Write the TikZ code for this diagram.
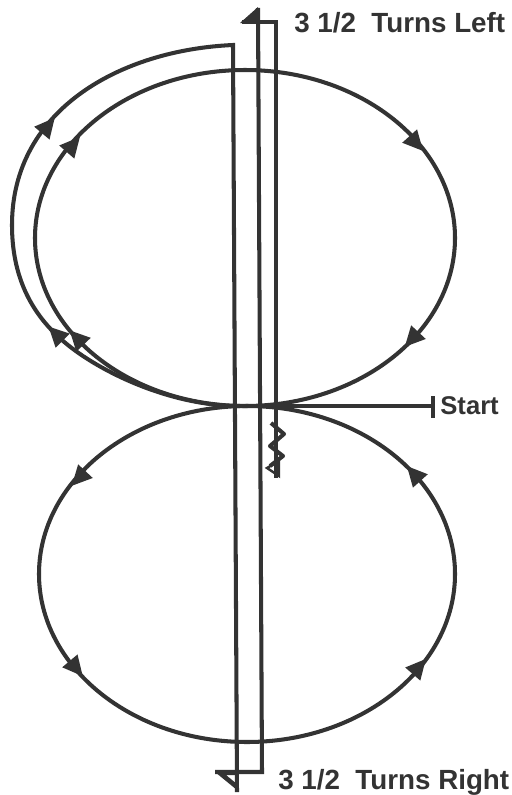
\documentclass[tikz,border=0pt]{standalone}
\usepackage{fontspec}
\setmainfont{Liberation Sans}
\usepackage{tikz}
\usetikzlibrary{calc,positioning}
\definecolor{ink}{HTML}{333333}

\begin{document}
\begin{tikzpicture}[x=0.02cm,y=-0.02cm,
    loopline/.style={draw=ink,line width=2.3pt},
    headfill/.style={fill=ink,draw=none},
    turnlabel/.style={inner sep=0pt,text=ink,font=\fontsize{15.8}{16}\selectfont\bfseries},
    startlabel/.style={inner sep=0pt,text=ink,font=\fontsize{14.6}{15}\selectfont\bfseries}]
      \useasboundingbox (0,0) rectangle (511,795);
      % the two big loops
      \draw[loopline] (245,238) ellipse [x radius=210,y radius=168];
      \draw[loopline] (247,574) ellipse [x radius=208,y radius=168];
      % labels
      \node[turnlabel,anchor=west] (left) at (294,23) {3 1/2\ \ Turns Left};
      \node[turnlabel,anchor=west] (right) at (278,782) {3 1/2\ \ Turns Right};
      \node[startlabel,anchor=west] (start) at (440,406) {Start};
      % end points of the lines
      \coordinate (o1) at (233,45);
      \coordinate (o2) at (240,406);
      \coordinate (c1) at (237,792);
      \coordinate (l1) at (258,8);
      \coordinate (l2) at (276,22);
      \coordinate (l3) at (276,478);
      \coordinate (r1) at (262,772);
      \coordinate (h1) at (265,406);
      \coordinate (h2) at (433,406);
      \coordinate (t1) at (433,396);
      \coordinate (t2) at (433,418);
      % extra turn on the outside, and the three shafts
      \draw[loopline,line join=miter] (c1) -- (o1) .. controls (120,50) and (12,110) .. (12,225)
        .. controls (12,275) and (30,312) .. (62,340) .. controls (92,367) and (165,406) .. (o2);
      \draw[loopline,line join=miter] (l1) -- (r1) -- (215,772);
      \draw[loopline,line join=miter] (242,22) -- (l2) -- (l3);
      \draw[loopline] (h1) -- (h2);
      \draw[loopline] (t1) -- (t2);
      % wavy lead in
      \draw[loopline,line join=round] (271,423) -- (284,434) -- (270,446) -- (283,456) -- (270,466);
      \draw[loopline,line width=1.4pt,line join=miter] (267,468) -- (279,461) -- (279,476) -- cycle;
      % half heads at the shaft ends
      \fill[headfill] (240,23) -- (258,7) -- (258,23) -- cycle;
      \fill[headfill] (215,772) -- (237,790) -- (237,784) -- (226,775) -- (237,775) -- (237,772) -- cycle;
      % arrowheads round the loops
      \foreach \ax/\ay/\ang in {415/142/-48,413/338/227,72/146/49,78/339/134,47/127/50,57/335/135,
          80/477/227,75/667/-50,418/668/49,415/475/132}{
        \fill[headfill,shift={(\ax,\ay)},rotate=\ang] (12,0) -- (-8,10) -- (-8,-10) -- cycle;
      }
    \end{tikzpicture}
\end{document}
